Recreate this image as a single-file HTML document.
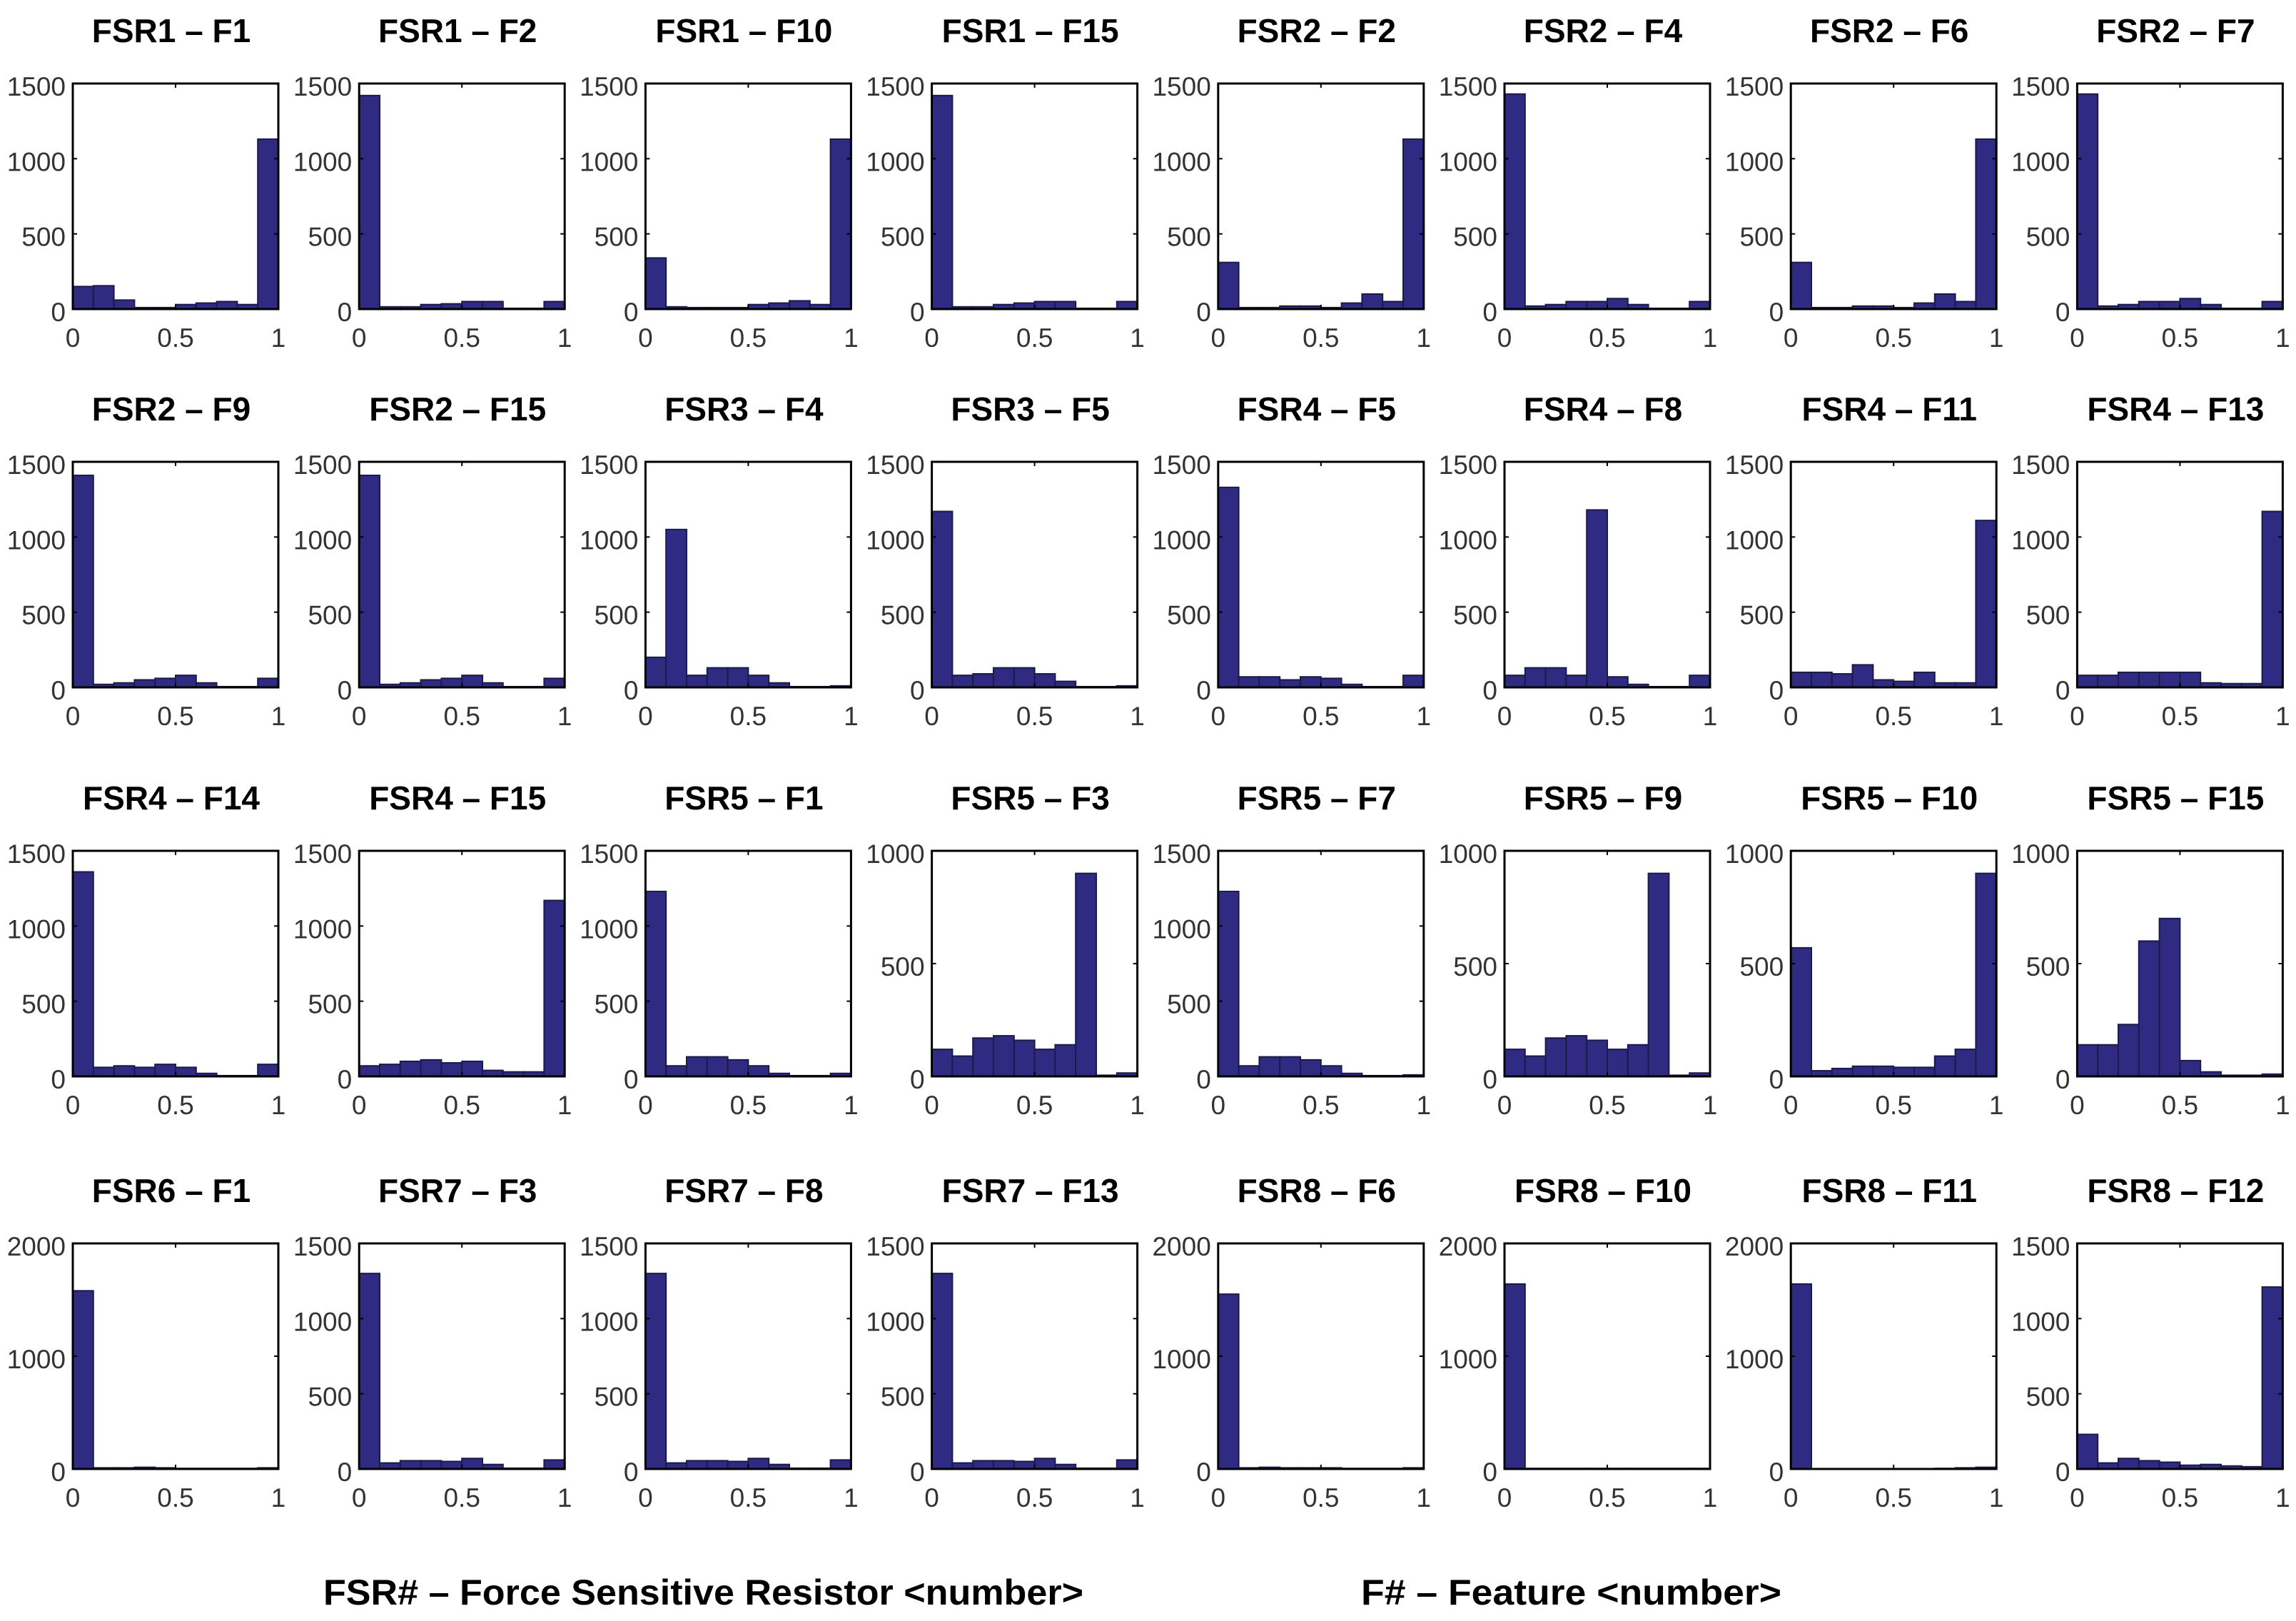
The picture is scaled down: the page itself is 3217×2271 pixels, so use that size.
<!DOCTYPE html>
<html><head><meta charset="utf-8"><style>
html,body{margin:0;padding:0;background:#fff}
svg{display:block}
</style></head><body>
<svg id="fig" xmlns="http://www.w3.org/2000/svg" width="3217" height="2271" viewBox="0 0 3217 2271">
<rect x="0" y="0" width="3217" height="2271" fill="#fff"/>
<text x="453" y="2248" font-family="'Liberation Sans',sans-serif" font-weight="bold" font-size="50" textLength="1065" lengthAdjust="spacingAndGlyphs" fill="#000">FSR# – Force Sensitive Resistor &lt;number&gt;</text>
<text x="1907" y="2248" font-family="'Liberation Sans',sans-serif" font-weight="bold" font-size="50" textLength="589" lengthAdjust="spacingAndGlyphs" fill="#000">F# – Feature &lt;number&gt;</text>
</svg>
<script>
const titles = ["FSR1 – F1","FSR1 – F2","FSR1 – F10","FSR1 – F15","FSR2 – F2","FSR2 – F4","FSR2 – F6","FSR2 – F7",
"FSR2 – F9","FSR2 – F15","FSR3 – F4","FSR3 – F5","FSR4 – F5","FSR4 – F8","FSR4 – F11","FSR4 – F13",
"FSR4 – F14","FSR4 – F15","FSR5 – F1","FSR5 – F3","FSR5 – F7","FSR5 – F9","FSR5 – F10","FSR5 – F15",
"FSR6 – F1","FSR7 – F3","FSR7 – F8","FSR7 – F13","FSR8 – F6","FSR8 – F10","FSR8 – F11","FSR8 – F12"];
const yMax = [1500,1500,1500,1500,1500,1500,1500,1500,
1500,1500,1500,1500,1500,1500,1500,1500,
1500,1500,1500,1000,1500,1000,1000,1000,
2000,1500,1500,1500,2000,2000,2000,1500];
const counts = [
[150,155,60,10,10,30,40,50,30,1130],
[1420,15,15,30,35,50,50,5,5,50],
[340,15,10,10,10,30,40,55,30,1130],
[1420,15,15,30,40,50,50,5,5,50],
[310,10,10,20,20,10,40,100,50,1130],
[1430,20,30,50,50,70,30,5,5,50],
[310,10,10,20,20,10,40,100,50,1130],
[1430,20,30,50,50,70,30,5,5,50],
[1410,20,30,50,60,80,30,5,5,60],
[1410,20,30,50,60,80,30,5,5,60],
[200,1050,80,130,130,80,30,5,5,10],
[1170,80,90,130,130,90,40,5,5,10],
[1330,70,70,50,70,60,20,5,5,80],
[80,130,130,80,1180,70,20,5,5,80],
[100,100,90,150,50,40,100,30,30,1110],
[80,80,100,100,100,100,30,25,25,1170],
[1360,60,70,60,80,60,20,5,5,80],
[70,80,100,110,90,100,40,30,30,1170],
[1230,70,130,130,110,70,20,5,5,20],
[120,90,170,180,160,120,140,900,5,15],
[1230,70,130,130,110,70,20,5,5,10],
[120,90,170,180,160,120,140,900,5,15],
[570,25,35,45,45,40,40,90,120,900],
[140,140,230,600,700,70,20,5,5,10],
[1580,10,10,15,10,5,5,5,5,10],
[1300,40,55,55,50,70,30,5,5,60],
[1300,40,55,55,50,70,30,5,5,60],
[1300,40,55,55,50,70,30,5,5,60],
[1550,10,15,10,10,10,5,5,5,10],
[1640,5,5,5,5,5,5,5,5,5],
[1640,3,3,3,3,3,3,5,10,15],
[230,40,70,55,45,25,30,20,15,1210]];
const xTicks = [0,0.5,1];
const xTickLabels = ["0","0.5","1"];

const NS="http://www.w3.org/2000/svg";
const svg=document.getElementById('fig');
const rowTops=[117,647,1192,1742];
const W=288,H=316;
function mk(tag,attrs,parent){const e=document.createElementNS(NS,tag);for(const k in attrs)e.setAttribute(k,attrs[k]);(parent||svg).appendChild(e);return e;}
function yTicksFor(m){return m===2000?[0,1000,2000]:(m===1000?[0,500,1000]:[0,500,1000,1500]);}

titles.forEach((t,i)=>{
  const r=Math.floor(i/8),c=i%8;
  const L=102+c*401.2,T=rowTops[r],B=T+H,R=L+W;
  const g=mk('g',{});
  
  
  const sx=v=>L+v*W;
  const sy=v=>B-v/yMax[i]*H;
  const tt=mk('text',{x:L+W/2-6,y:T-58,'text-anchor':'middle','font-family':"'Liberation Sans',sans-serif",'font-weight':'bold','font-size':46,fill:'#000'},g);
  
  
  tt.textContent=t;
  counts[i].forEach((v,k)=>{
    const y=sy(v);
    const b=mk('rect',{x:sx(k/10),y:y,width:W/10,height:B-y,fill:'#2f2a82',stroke:'#1c1a4a','stroke-width':2},g);
    
    
  });
  const fr=mk('rect',{x:L,y:T,width:W,height:H,fill:'none',stroke:'#000','stroke-width':3},g);
  
  
  xTicks.forEach((v,k)=>{
    const x=sx(v);
    mk('line',{x1:x,y1:T,x2:x,y2:T+6,stroke:'#000','stroke-width':2},g);
    mk('line',{x1:x,y1:B,x2:x,y2:B-6,stroke:'#000','stroke-width':2},g);
    const lb=mk('text',{x:x,y:B+53,'text-anchor':'middle','font-family':"'Liberation Sans',sans-serif",'font-size':37,fill:'#333'},g);
    
    
    lb.textContent=xTickLabels[k];
  });
  yTicksFor(yMax[i]).forEach(v=>{
    const y=sy(v);
    mk('line',{x1:L,y1:y,x2:L+6,y2:y,stroke:'#000','stroke-width':2},g);
    mk('line',{x1:R,y1:y,x2:R-6,y2:y,stroke:'#000','stroke-width':2},g);
    const lb=mk('text',{x:L-10,y:y+17,'text-anchor':'end','font-family':"'Liberation Sans',sans-serif",'font-size':37,fill:'#333'},g);
    
    
    lb.textContent=String(v);
  });
});
</script>
</body></html>
